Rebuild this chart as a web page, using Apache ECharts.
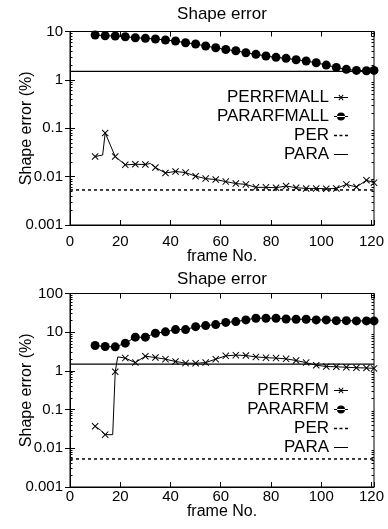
<!DOCTYPE html>
<html><head><meta charset="utf-8">
<script src="https://cdn.jsdelivr.net/npm/echarts@6/dist/echarts.min.js"></script>
<style>html,body{margin:0;padding:0;background:#fff}#c{width:388px;height:529px}</style>
</head><body><div id="c"></div>
<script>
// ---- data ----
const xTicks = [0, 20, 40, 60, 80, 100, 120];
const yTickLabels = {'-3':'0.001','-2':'0.01','-1':'0.1','0':'1','1':'10','2':'100'};
const decadesTop = [0.001, 0.01, 0.1, 1];
const decadesBot = [0.001, 0.01, 0.1, 1, 10];
const minorMultipliers = [2, 3, 4, 5, 6, 7, 8, 9];

const framesTopDots = [10,14,18,22,26,30,34,38,42,46,50,54,58,62,66,70,74,78,82,86,90,94,98,102,106,110,114,118,121];
const pararfmall = [8.46,8.19,8.07,7.80,7.44,7.23,7.00,6.67,6.36,5.86,5.51,5.01,4.62,4.24,4.0,3.64,3.37,3.11,2.92,2.79,2.61,2.45,2.26,2.02,1.81,1.65,1.57,1.54,1.57];

const framesTopCross = [10,13,14,18,22,26,30,32,34,38,42,46,50,54,58,62,66,70,74,78,82,86,90,94,98,102,106,110,114,118,121];
const perrfmall = [0.026,0.028,0.080,0.026,0.0175,0.018,0.0178,0.0187,0.0154,0.0119,0.0128,0.0121,0.0102,0.0091,0.0087,0.0079,0.0072,0.0069,0.0060,0.0060,0.0059,0.0064,0.0059,0.0057,0.0057,0.0056,0.0057,0.0069,0.0061,0.0084,0.0075];
const unmarkedTop = [13, 32];

const framesBotDots = [10,14,18,22,26,30,34,38,42,46,50,54,58,62,66,70,74,78,82,86,90,94,98,102,106,110,114,118,121];
const pararfm = [4.52,4.26,4.18,5.20,7.43,7.43,9.42,10.2,11.7,11.7,13.9,14.8,15.7,17.9,18.8,20.8,23.0,23.0,23.0,22.0,21.6,21.6,20.8,20.8,19.9,19.9,19.6,19.6,19.6];

const framesBotCross = [10,12,14,17,18,19,22,26,30,34,38,42,46,50,54,58,62,66,70,74,78,82,86,90,94,98,102,106,110,114,118,121];
const perrfm = [0.037,0.030,0.0225,0.0225,0.95,2.3,2.14,1.64,2.4,2.21,2.01,1.75,1.59,1.57,1.64,2.01,2.45,2.55,2.5,2.3,2.2,2.14,2.05,1.85,1.64,1.4,1.3,1.28,1.24,1.21,1.19,1.16];
const unmarkedBot = [12, 17, 19];

const perLevel = 0.0053;
const paraLevel = 1.5;
const xRange = [0, 121];

// ---- chart ----
const FONT = 'Liberation Sans';
const X_SYM = 'path://M0,1L1,0L5,4L9,0L10,1L6,5L10,9L9,10L5,6L1,10L0,9L4,5Z';
// legend icons drawn in a 14x9 box (corner specks keep the box full size)
const BOX = 'M0,0L0.01,0L0.01,0.01ZM14,9L13.99,9L13.99,8.99Z';
const LINE = 'M0,4H14V5H0Z';
const ICON_CROSS = 'path://' + BOX + LINE + 'M4.5,2.2L5.2,1.5L7,3.8L8.8,1.5L9.5,2.2L7.7,4.5L9.5,6.8L8.8,7.5L7,5.2L5.2,7.5L4.5,6.8L6.3,4.5Z';
const ICON_DOT = 'path://' + BOX + LINE + 'M3,4.5A4,4 0 1,0 11,4.5A4,4 0 1,0 3,4.5Z';
const ICON_DASH = 'path://' + BOX + 'M0,3.8H3V5.2H0ZM5.5,3.8H8.5V5.2H5.5ZM11,3.8H14V5.2H11Z';
const ICON_LINE = 'path://' + BOX + LINE;

const zip = (xs, ys) => xs.map((x, i) => [x, ys[i]]);

function xAxes(gi, labelMargin, nameGap) {
  const base = {
    type: 'value', gridIndex: gi, min: xRange[0], max: xRange[1], interval: 20,
    splitLine: {show: false},
    axisLine: {show: true, lineStyle: {color: '#000', width: 1}},
    axisTick: {show: true, inside: true, length: 5, lineStyle: {color: '#000'}}
  };
  return [
    Object.assign({}, base, {
      position: 'bottom', name: 'frame No.', nameLocation: 'middle', nameGap,
      nameMoveOverlap: false,
      nameTextStyle: {fontFamily: FONT, fontSize: 16, color: '#000'},
      axisLabel: {fontFamily: FONT, fontSize: 15, color: '#000', margin: labelMargin,
        formatter: v => xTicks.includes(v) ? String(v) : ''}
    }),
    Object.assign({}, base, {position: 'top', axisLabel: {show: false}})
  ];
}
function yAxes(gi, maxV, decades) {
  const minorVals = decades.flatMap(d => minorMultipliers.map(m => +(m * d).toPrecision(3)));
  const base = {
    type: 'log', logBase: 10, gridIndex: gi, min: 0.001, max: maxV,
    splitLine: {show: false}, minorTick: {show: false},
    axisLine: {show: true, lineStyle: {color: '#000', width: 1}},
    axisTick: {show: true, inside: true, length: 5, lineStyle: {color: '#000'}}
  };
  const minor = pos => Object.assign({}, base, {
    position: pos, axisLabel: {show: false}, axisLine: {show: false},
    axisTick: {show: true, inside: true, length: 2.5, customValues: minorVals, lineStyle: {color: '#000'}}
  });
  return [
    Object.assign({}, base, {
      position: 'left', name: 'Shape error (%)', nameLocation: 'middle', nameGap: 35,
      nameMoveOverlap: false,
      nameTextStyle: {fontFamily: FONT, fontSize: 16, color: '#000'},
      axisLabel: {fontFamily: FONT, fontSize: 15, color: '#000', margin: 7,
        formatter: v => yTickLabels[String(Math.round(Math.log10(v)))] || ''}
    }),
    Object.assign({}, base, {position: 'right', axisLabel: {show: false}}),
    minor('left'),
    minor('right')
  ];
}
function crossSeries(name, gi, frames, vals, unmarked) {
  return {
    name, type: 'line', xAxisIndex: gi * 2, yAxisIndex: gi * 4,
    data: zip(frames, vals),
    symbol: v => unmarked.includes(v[0]) ? 'none' : X_SYM,
    symbolSize: 7, showAllSymbol: true,
    lineStyle: {color: '#000', width: 1}, itemStyle: {color: '#000'},
    animation: false, z: 4
  };
}
function dotSeries(name, gi, frames, vals) {
  return {
    name, type: 'line', xAxisIndex: gi * 2, yAxisIndex: gi * 4,
    data: zip(frames, vals), symbol: 'circle', symbolSize: 9, showAllSymbol: true,
    lineStyle: {color: '#000', width: 1}, itemStyle: {color: '#000'},
    animation: false, z: 5
  };
}
function levelSeries(name, gi, v, dashed) {
  return {
    name, type: 'line', xAxisIndex: gi * 2, yAxisIndex: gi * 4,
    data: [[xRange[0], v], [xRange[1], v]], symbol: 'none',
    lineStyle: {color: '#000', width: dashed ? 1.5 : 1.2, type: dashed ? [3, 3] : 'solid'},
    itemStyle: {color: '#000'}, animation: false, z: 3
  };
}
function legend(names, top) {
  const icons = [ICON_CROSS, ICON_DOT, ICON_DASH, ICON_LINE];
  return {
    data: names.map((n, i) => ({name: n, icon: icons[i], itemStyle: {color: '#000', borderWidth: 0}})),
    orient: 'vertical', align: 'right', right: 40, top,
    itemWidth: 14, itemHeight: 9, itemGap: 2, padding: 0, selectedMode: false,
    textStyle: {fontFamily: FONT, fontSize: 17, color: '#000', lineHeight: 16}
  };
}

const chart = echarts.init(document.getElementById('c'), null, {renderer: 'canvas'});
chart.setOption({
  backgroundColor: '#fff',
  animation: false,
  title: [
    {text: 'Shape error', left: 222, top: 6, textAlign: 'center', padding: 0,
     textStyle: {fontFamily: FONT, fontSize: 17, fontWeight: 'normal', color: '#000'}},
    {text: 'Shape error', left: 222, top: 271, textAlign: 'center', padding: 0,
     textStyle: {fontFamily: FONT, fontSize: 17, fontWeight: 'normal', color: '#000'}}
  ],
  grid: [
    {left: 70, top: 31.5, width: 304, height: 193.5, show: true, borderColor: '#000', borderWidth: 1, backgroundColor: 'transparent', outerBoundsMode: 'none', containLabel: false},
    {left: 70, top: 293.5, width: 304, height: 193.5, show: true, borderColor: '#000', borderWidth: 1, backgroundColor: 'transparent', outerBoundsMode: 'none', containLabel: false}
  ],
  xAxis: [...xAxes(0, 9, 24), ...xAxes(1, 2, 17)],
  yAxis: [...yAxes(0, 10, decadesTop), ...yAxes(1, 100, decadesBot)],
  legend: [
    legend(['PERRFMALL', 'PARARFMALL', 'PER', 'PARA'], 89),
    legend(['PERRFM', 'PARARFM', 'PER', 'PARA'], 382)
  ],
  series: [
    crossSeries('PERRFMALL', 0, framesTopCross, perrfmall, unmarkedTop),
    dotSeries('PARARFMALL', 0, framesTopDots, pararfmall),
    levelSeries('PER', 0, perLevel, true),
    levelSeries('PARA', 0, paraLevel, false),
    crossSeries('PERRFM', 1, framesBotCross, perrfm, unmarkedBot),
    dotSeries('PARARFM', 1, framesBotDots, pararfm),
    levelSeries('PER', 1, perLevel, true),
    levelSeries('PARA', 1, paraLevel, false)
  ]
});
</script></body></html>
